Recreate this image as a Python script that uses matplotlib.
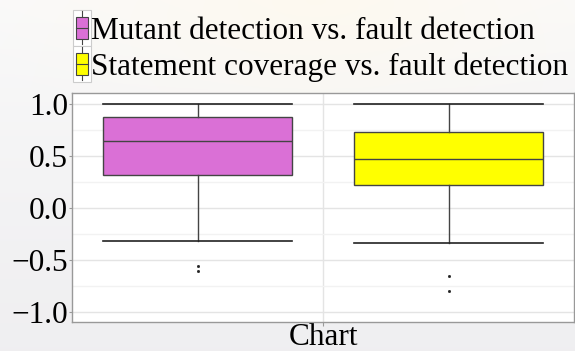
import numpy as np
import matplotlib
matplotlib.use("Agg")
import matplotlib.pyplot as plt
from matplotlib.legend_handler import HandlerBase
from matplotlib.patches import Rectangle
from matplotlib.lines import Line2D

plt.rcParams['font.family'] = ['Liberation Serif', 'DejaVu Serif']

category = "Chart"
series = ["Mutant detection vs. fault detection",
          "Statement coverage vs. fault detection"]
colors = ["#da70d6", "#ffff00"]
whislo = [-0.32, -0.34]
q1 = [0.32, 0.22]
med = [0.64, 0.47]
q3 = [0.87, 0.73]
whishi = [1.0, 1.0]
fliers = [[-0.56, -0.61], [-0.66, -0.80]]
yticks = [-1.0, -0.5, 0.0, 0.5, 1.0]
yticklabels = ["\u22121.0", "\u22120.5", "0.0", "0.5", "1.0"]

W, H = 575, 351
fig = plt.figure(figsize=(W / 100, H / 100), dpi=100)

# background gradient
bg = fig.add_axes([0, 0, 1, 1], zorder=-10)
yy, xx = np.mgrid[0:1:200j, 0:1:300j]
base = np.zeros((200, 300, 3))
g = 0.98 - 0.035 * yy[..., None]
base[:] = g
d = np.sqrt(((xx - 0.55) / 0.6) ** 2 + (yy / 0.45) ** 2)
glow = np.clip(1 - d, 0, 1)[..., None]
warm = np.array([0.995, 0.978, 0.94])
img = base * (1 - glow) + warm * glow
cool = np.array([0.93, 0.925, 0.945])
img = img * (1 - 0.4 * yy[..., None]) + cool * 0.4 * yy[..., None]
bg.imshow(img, aspect='auto', extent=[0, 1, 0, 1], origin='upper')
bg.axis('off')

ax = fig.add_axes([72 / W, (H - 322) / H, (574 - 72) / W, (322 - 93) / H])
ax.set_facecolor('white')

stats = []
for i in range(len(series)):
    stats.append(dict(med=med[i], q1=q1[i], q3=q3[i], whislo=whislo[i],
                      whishi=whishi[i], fliers=fliers[i]))
offsets = [-0.25, 0.25]
bw = 0.375
edge = '#444444'
for i, st in enumerate(stats):
    ax.bxp([st], positions=[offsets[i]], widths=bw, patch_artist=True,
           capwidths=bw, manage_ticks=False,
           boxprops=dict(facecolor=colors[i], edgecolor=edge, linewidth=1.0),
           medianprops=dict(color=edge, linewidth=1.0),
           whiskerprops=dict(color=edge, linewidth=1.0),
           capprops=dict(color='#222222', linewidth=1.2),
           flierprops=dict(marker='s', markersize=1.0, markerfacecolor='#222222',
                           markeredgecolor='#222222', linestyle='none'))

FS = 22.5
ax.set_xlim(-0.5, 0.5)
ax.set_ylim(-1.1, 1.105)
ax.set_yticks(yticks)
ax.set_yticklabels(yticklabels)
ax.set_yticks([-0.75, -0.25, 0.25, 0.75], minor=True)
ax.set_xticks([0])
ax.set_xticklabels([category])
ax.grid(True, which='major', color='#e4e4e4', linewidth=1.0)
ax.grid(True, which='minor', axis='y', color='#f2f2f2', linewidth=1.0)
ax.set_axisbelow(True)
ax.tick_params(axis='both', which='major', labelsize=FS, length=2,
               color='#999999', pad=1)
ax.tick_params(axis='y', which='minor', length=0)
ax.tick_params(axis='x', length=3, pad=-2)
for s in ax.spines.values():
    s.set_color('#999999')
    s.set_linewidth(1.0)


class BoxHandler(HandlerBase):
    def __init__(self, color):
        super().__init__()
        self.color = color

    def create_artists(self, legend, orig_handle, xdescent, ydescent, width,
                       height, fontsize, trans):
        cx = xdescent + width / 2
        arts = []
        arts.append(Rectangle((xdescent - 1.5, -ydescent - 5), width + 3, height + 10,
                              facecolor='white', edgecolor='#cccccc', lw=0.8,
                              transform=trans))
        arts.append(Line2D([cx, cx], [-ydescent - 4, -ydescent + height + 4],
                           color='#444444', lw=0.8, transform=trans))
        arts.append(Rectangle((xdescent + 0.5, -ydescent), width - 1, height,
                              facecolor=self.color, edgecolor='#444444', lw=0.8,
                              transform=trans))
        arts.append(Line2D([xdescent + 0.5, xdescent + width - 0.5],
                           [-ydescent + height / 2] * 2,
                           color='#444444', lw=0.8, transform=trans))
        return arts


handles = [Rectangle((0, 0), 1, 1) for _ in series]
fig.legend(handles, series, loc='upper left',
           bbox_to_anchor=(67 / W, 1.0 - 9 / H),
           frameon=False, fontsize=FS, handlelength=0.44, handleheight=0.7,
           handletextpad=0.08, labelspacing=0.2, borderaxespad=0.0,
           borderpad=0.25,
           handler_map={handles[0]: BoxHandler(colors[0]),
                        handles[1]: BoxHandler(colors[1])})

fig.savefig("out.png", dpi=100)
